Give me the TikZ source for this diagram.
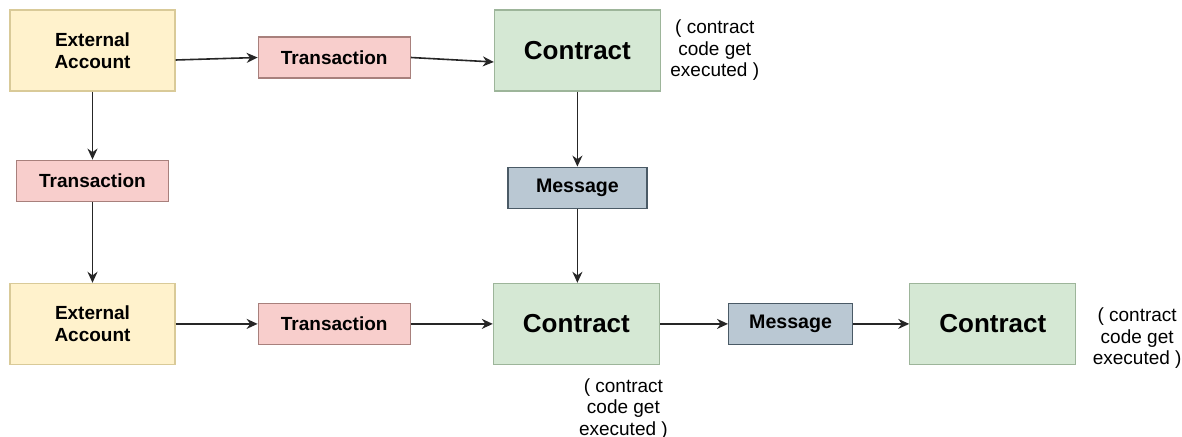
\documentclass[tikz,border=0pt]{standalone}
\usepackage{fontspec}
\setmainfont{Liberation Sans}
\usetikzlibrary{positioning,arrows.meta}
\definecolor{accfill}{HTML}{FFF2CC}
\definecolor{accline}{HTML}{D9CA98}
\definecolor{txfill}{HTML}{F8CECC}
\definecolor{txline}{HTML}{A8807C}
\definecolor{ctfill}{HTML}{D5E8D4}
\definecolor{ctline}{HTML}{9DB59A}
\definecolor{msgfill}{HTML}{BAC8D3}
\definecolor{msgline}{HTML}{4A5A66}
\tikzset{
  box/.style={draw, line width=0.6pt, align=center, inner sep=0pt,
    font=\fontsize{9.5}{10.75}\selectfont\bfseries},
  account/.style={box, fill=accfill, draw=accline, minimum width=82.5pt, minimum height=40.5pt},
  txbox/.style={box, fill=txfill, draw=txline, minimum width=76pt, minimum height=20.5pt},
  contract/.style={box, fill=ctfill, draw=ctline, minimum width=83pt, minimum height=40.5pt,
    font=\fontsize{13}{15}\selectfont\bfseries},
  msgbox/.style={box, fill=msgfill, draw=msgline, minimum height=20.5pt,
    font=\fontsize{9.8}{11}\selectfont\bfseries},
  note/.style={align=center, inner sep=0pt, font=\fontsize{9.5}{10.75}\selectfont},
  link/.style={-{Stealth[length=5.5pt,width=5pt]}, line width=0.8pt, draw=black!85}
}
\begin{document}
\begin{tikzpicture}
  \useasboundingbox (0,0) rectangle (591pt,-218.5pt);
  % top row
  \node[account] (acc_top) at (46.25pt,-25.25pt) {External\\Account};
  \node[txbox] (tx_top) [right=41pt of acc_top, yshift=-3.5pt] {Transaction};
  \node[contract] (ct_top) [right=41.5pt of tx_top, yshift=3.5pt] {Contract};
  \node[note] (note_top) [right=4.5pt of ct_top] {( contract\\code get\\executed )};
  \node[msgbox, minimum width=69.5pt] (msg_mid) [below=37.5pt of ct_top] {Message};
  % left column
  \node[txbox] (tx_left) [below=34pt of acc_top] {Transaction};
  \node[account] (acc_bot) [below=40.5pt of tx_left] {External\\Account};
  % bottom row
  \node[txbox] (tx_bot) [right=41pt of acc_bot] {Transaction};
  \node[contract] (ct_bot) [right=41pt of tx_bot] {Contract};
  \node[note] (note_bot) [below=6.5pt of ct_bot, xshift=23.5pt] {( contract\\code get\\executed )};
  \node[msgbox, minimum width=62pt] (msg_bot) [right=34pt of ct_bot] {Message};
  \node[contract] (ct_end) [right=28pt of msg_bot] {Contract};
  \node[note] (note_end) [right=8pt of ct_end, yshift=-7.25pt] {( contract\\code get\\executed )};

  \draw[link] ([yshift=-4.75pt]acc_top.east) -- (tx_top.west);
  \draw[link] (tx_top.east) -- ([yshift=-5.75pt]ct_top.west);
  \draw[link] (ct_top) -- (msg_mid);
  \draw[link] (msg_mid) -- (msg_mid |- ct_bot.north);
  \draw[link] (acc_top) -- (tx_left);
  \draw[link] (tx_left) -- (acc_bot);
  \draw[link] (acc_bot) -- (tx_bot);
  \draw[link] (tx_bot) -- (ct_bot);
  \draw[link] (ct_bot) -- (msg_bot);
  \draw[link] (msg_bot) -- (ct_end);
\end{tikzpicture}
\end{document}
